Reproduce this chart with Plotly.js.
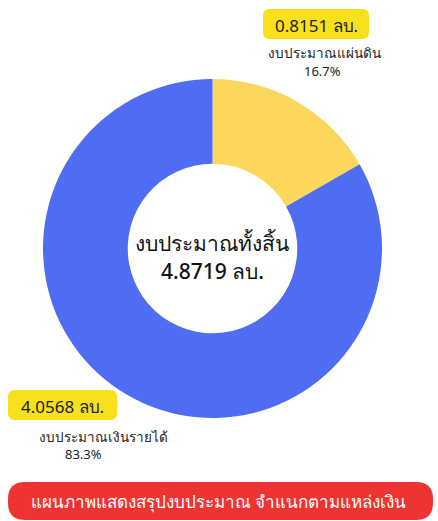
<!DOCTYPE html>
<html>
<head>
<meta charset="utf-8">
<script src="https://cdn.plot.ly/plotly-3.0.1.min.js"></script>
<style>html,body{margin:0;padding:0;background:#fff;}#chart{width:438px;height:521px;}</style>
</head>
<body>
<div id="chart"></div>
<script>
// Data
const categories = ["งบประมาณแผ่นดิน", "งบประมาณเงินรายได้"];
const amounts = [0.8151, 4.0568];
const percentLabels = ["16.7%", "83.3%"];
const totalLabel = "งบประมาณทั้งสิ้น";
const totalAmount = "4.8719";
const unit = "ลบ.";
const chartTitle = "แผนภาพแสดงสรุปงบประมาณ จำแนกตามแหล่งเงิน";
const sliceColors = ["#FCD75B", "#4E6DF3"];

const W = 438, H = 521;
const px = x => x / W;
const py = y => 1 - y / H;
function roundRect(x0, y0, x1, y1, r) {
  const rx = r / W, ry = r / H;
  const X0 = px(x0), X1 = px(x1), Y0 = py(y0), Y1 = py(y1);
  return `M ${X0 + rx} ${Y0} L ${X1 - rx} ${Y0} Q ${X1} ${Y0} ${X1} ${Y0 - ry} ` +
         `L ${X1} ${Y1 + ry} Q ${X1} ${Y1} ${X1 - rx} ${Y1} ` +
         `L ${X0 + rx} ${Y1} Q ${X0} ${Y1} ${X0} ${Y1 + ry} ` +
         `L ${X0} ${Y0 - ry} Q ${X0} ${Y0} ${X0 + rx} ${Y0} Z`;
}

const FONT = "Noto Sans, Roboto, sans-serif";

const trace = {
  type: "pie",
  labels: categories,
  values: amounts,
  sort: false,
  direction: "clockwise",
  rotation: 0,
  hole: 0.5,
  textinfo: "none",
  hoverinfo: "none",
  marker: { colors: sliceColors, line: { width: 0 } },
  domain: { x: [px(43), px(382)], y: [py(418), py(79)] },
  showlegend: false
};

const shapes = [
  { type: "path", xref: "paper", yref: "paper", path: roundRect(263, 9, 369, 39, 7), fillcolor: "#F9E01C", line: { width: 0 } },
  { type: "path", xref: "paper", yref: "paper", path: roundRect(8, 390, 117, 420, 7), fillcolor: "#F9E01C", line: { width: 0 } },
  { type: "path", xref: "paper", yref: "paper", path: roundRect(8, 482, 433, 520, 17), fillcolor: "#EE3333", line: { width: 0 } }
];

const ann = (text, x, y, size, color, weight) => ({
  text, x: px(x), y: py(y), xref: "paper", yref: "paper",
  xanchor: "center", yanchor: "middle", showarrow: false,
  font: { family: FONT, size, color, weight: weight || "normal" }
});

const annotations = [
  ann(amounts[0].toFixed(4) + " " + unit, 316, 25, 17, "#222"),
  ann(categories[0], 324, 53, 13.5, "#222"),
  ann(percentLabels[0], 322, 71, 13, "#222"),
  ann(amounts[1].toFixed(4) + " " + unit, 62, 406, 17, "#222"),
  ann(categories[1], 103, 437, 13.5, "#222"),
  ann(percentLabels[1], 83, 454, 13, "#222"),
  ann(totalLabel, 212, 243, 21, "#111", 500),
  ann(totalAmount + " " + unit, 212, 271, 21, "#111", 500),
  ann(chartTitle, 218, 501, 17, "#fff")
];

Plotly.newPlot("chart", [trace], {
  width: W, height: H, autosize: false,
  margin: { l: 0, r: 0, t: 0, b: 0 },
  paper_bgcolor: "#fff",
  shapes, annotations
}, { displayModeBar: false, staticPlot: true });
</script>
</body>
</html>
